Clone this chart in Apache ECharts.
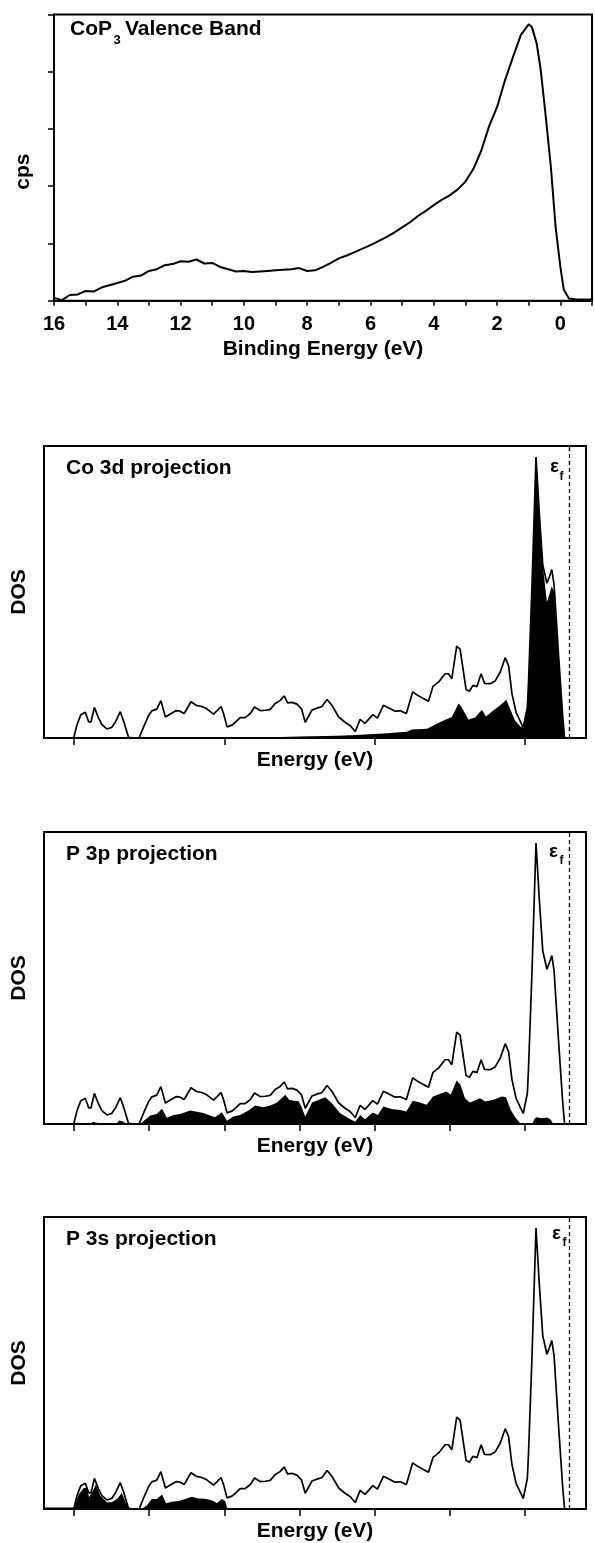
<!DOCTYPE html>
<html>
<head>
<meta charset="utf-8">
<script src="https://cdn.jsdelivr.net/npm/echarts@6/dist/echarts.min.js"></script>
<style>
  html, body { margin: 0; padding: 0; background: #fff; }
  #chart { width: 595px; height: 1543px; }
</style>
</head>
<body>
<div id="chart"></div>
<script>
// valence band XPS (binding energy in eV, counts arb.)
var vbEnergy = [16, 15.75, 15.5, 15.25, 15, 14.75, 14.5, 14.25, 14, 13.75, 13.5, 13.25, 13, 12.75, 12.5, 12.25,
	12, 11.75, 11.5, 11.25, 11, 10.75, 10.5, 10.25, 10, 9.75, 9.5, 9.25, 9, 8.75, 8.5, 8.25,
	8, 7.75, 7.5, 7.25, 7, 6.75, 6.5, 6.25, 6, 5.75, 5.5, 5.25, 5, 4.75, 4.5, 4.25,
	4, 3.75, 3.5, 3.25, 3, 2.75, 2.5, 2.25, 2, 1.75, 1.5, 1.25, 1, 0.9, 0.75, 0.62,
	0.46, 0.3, 0.15, 0, -0.11, -0.27, -0.5, -1];
var vbCounts = [0.05, 0.01, 0.10, 0.11, 0.17, 0.16, 0.23, 0.27, 0.31, 0.35, 0.42, 0.44, 0.52, 0.55, 0.62, 0.64,
	0.69, 0.68, 0.72, 0.65, 0.66, 0.59, 0.55, 0.51, 0.52, 0.50, 0.51, 0.52, 0.53, 0.54, 0.55, 0.57,
	0.52, 0.53, 0.59, 0.66, 0.74, 0.79, 0.85, 0.91, 0.97, 1.04, 1.11, 1.19, 1.28, 1.37, 1.48, 1.57,
	1.67, 1.76, 1.84, 1.94, 2.08, 2.30, 2.62, 3.05, 3.38, 3.85, 4.25, 4.64, 4.83, 4.78, 4.50, 4.03,
	3.21, 2.34, 1.29, 0.59, 0.19, 0.04, 0.02, 0.02];

// total DOS outline, shared by the three projection panels
var dosEnergy = [-12.01, -11.92, -11.82, -11.70, -11.61, -11.55, -11.46, -11.35, -11.26, -11.13, -11.00, -10.90,
	-10.77, -10.68, -10.55, -10.40, -10.27, -10.15, -10.02, -9.93, -9.80, -9.69, -9.57, -9.44,
	-9.28, -9.18, -9.07, -8.89, -8.75, -8.60, -8.47, -8.29, -8.20, -8.09, -8.02, -7.93,
	-7.80, -7.69, -7.58, -7.45, -7.31, -7.20, -7.05, -6.91, -6.78, -6.65, -6.52, -6.41,
	-6.32, -6.20, -6.07, -5.95, -5.85, -5.67, -5.50, -5.41, -5.27, -5.14, -4.96, -4.79,
	-4.65, -4.52, -4.39, -4.26, -4.05, -3.93, -3.77, -3.61, -3.46, -3.32, -3.16, -2.99,
	-2.86, -2.69, -2.57, -2.45, -2.30, -2.13, -2.04, -1.95, -1.82, -1.73, -1.57, -1.48,
	-1.39, -1.28, -1.17, -1.08, -0.93, -0.80, -0.66, -0.53, -0.44, -0.35, -0.24, -0.05,
	0.06, 0.09, 0.18, 0.29, 0.38, 0.47, 0.58, 0.64, 0.71, 0.77, 0.89, 1.00, 1.05];
var dosTotal = [0.0, 0.46, 0.80, 0.88, 0.55, 0.55, 1.05, 0.69, 0.46, 0.31, 0.36, 0.55,
	0.90, 0.57, 0.02, 0.0, 0.0, 0.38, 0.76, 0.93, 0.99, 1.28, 0.72, 0.82,
	0.94, 0.92, 0.84, 1.24, 1.12, 1.08, 1.00, 0.82, 0.93, 1.08, 0.82, 0.38,
	0.44, 0.56, 0.70, 0.70, 0.84, 1.06, 0.94, 0.95, 0.98, 1.18, 1.28, 1.44,
	1.20, 1.22, 1.16, 1.00, 0.54, 0.96, 1.04, 1.07, 1.32, 1.12, 0.72, 0.54,
	0.42, 0.22, 0.64, 0.50, 0.80, 0.68, 1.12, 1.02, 0.92, 0.93, 0.84, 1.58,
	1.46, 1.34, 1.26, 1.77, 1.92, 2.20, 2.20, 2.03, 3.15, 3.04, 1.66, 1.60,
	1.80, 1.76, 2.20, 1.87, 1.86, 1.95, 2.26, 2.75, 2.48, 1.52, 0.88, 0.36,
	1.05, 1.89, 5.10, 9.62, 7.65, 5.93, 5.30, 5.50, 5.77, 5.26, 2.84, 0.75, 0.0];

// Co 3d projection (filled)
var co3dEnergy = [-12.0, -7.0, -6.0, -5.0, -4.65, -3.77, -3.15, -3.01, -2.61, -2.44, -2.17, -1.95,
	-1.77, -1.69, -1.51, -1.33, -1.15, -1.04, -0.84, -0.66, -0.50, -0.40, -0.27, -0.13,
	-0.05, 0.06, 0.09, 0.18, 0.29, 0.38, 0.47, 0.58, 0.64, 0.71, 0.77, 0.89, 1.00, 1.05];
var co3dDos = [0.0, 0.02, 0.05, 0.08, 0.09, 0.15, 0.21, 0.29, 0.32, 0.43, 0.60, 0.72,
	1.18, 1.06, 0.63, 0.70, 0.97, 0.74, 0.95, 1.12, 1.31, 1.00, 0.60, 0.40,
	0.34, 1.05, 1.89, 5.10, 9.62, 7.65, 5.93, 4.66, 4.90, 5.20, 5.00, 2.84, 0.75, 0.0];

// P 3p projection (filled)
var p3pEnergy = [-12.0, -11.55, -11.50, -11.46, -11.40, -11.35, -10.88, -10.80, -10.75, -10.68, -10.62, -10.25,
	-10.10, -9.97, -9.80, -9.66, -9.53, -9.35, -9.18, -8.91, -8.73, -8.56, -8.38, -8.25,
	-8.07, -7.93, -7.76, -7.58, -7.36, -7.18, -6.96, -6.78, -6.60, -6.38, -6.27, -6.03,
	-5.95, -5.85, -5.67, -5.50, -5.32, -5.14, -4.92, -4.70, -4.52, -4.39, -4.26, -4.05,
	-3.92, -3.77, -3.55, -3.32, -3.16, -2.99, -2.80, -2.62, -2.45, -2.22, -2.09, -1.98,
	-1.82, -1.72, -1.60, -1.47, -1.33, -1.20, -1.06, -0.84, -0.62, -0.51, -0.38, -0.27,
	-0.13, 0.19, 0.25, 0.31, 0.45, 0.58, 0.68, 0.75];
var p3pDos = [0.0, 0.0, 0.08, 0.12, 0.04, 0.0, 0.0, 0.12, 0.18, 0.08, 0.0, 0.0,
	0.15, 0.29, 0.34, 0.52, 0.21, 0.31, 0.34, 0.46, 0.42, 0.38, 0.29, 0.23,
	0.40, 0.11, 0.26, 0.31, 0.46, 0.63, 0.57, 0.63, 0.74, 1.00, 0.82, 0.78,
	0.60, 0.25, 0.74, 0.82, 0.92, 0.71, 0.37, 0.20, 0.08, 0.31, 0.16, 0.39,
	0.31, 0.60, 0.51, 0.48, 0.43, 0.80, 0.74, 0.66, 0.94, 1.05, 1.11, 1.00,
	1.49, 1.34, 0.88, 0.74, 0.81, 0.88, 0.77, 0.83, 0.94, 0.92, 0.48, 0.25,
	0.02, 0.0, 0.18, 0.23, 0.20, 0.22, 0.15, 0.0];

// P 3s projection (filled)
var p3sEnergy = [-12.78, -12.0, -11.97, -11.88, -11.75, -11.66, -11.60, -11.55, -11.48, -11.42, -11.30, -11.13,
	-11.00, -10.86, -10.73, -10.61, -10.50, -10.20, -10.06, -9.93, -9.80, -9.66, -9.55, -9.40,
	-9.22, -9.04, -8.87, -8.70, -8.47, -8.29, -8.20, -8.07, -7.98, -7.92, -7.20, -7.15,
	-7.10, -6.55, -6.50, -6.45];
var p3sDos = [0.05, 0.05, 0.05, 0.49, 0.71, 0.74, 0.40, 0.45, 0.67, 0.85, 0.45, 0.23,
	0.23, 0.34, 0.55, 0.17, 0.0, 0.0, 0.13, 0.34, 0.34, 0.50, 0.20, 0.25,
	0.27, 0.34, 0.42, 0.36, 0.34, 0.27, 0.20, 0.34, 0.27, 0.0, 0.0, 0.03,
	0.0, 0.0, 0.03, 0.0];

var fermiLevel = 1.17;
var coarseTicks = [-12, -8, -4, 0];
var fineTicks = [-12, -10, -8, -6, -4, -2, 0];

var FONT = '"Liberation Sans", Arial, Helvetica, sans-serif';

function pairs(xs, ys) {
	var out = [];
	for (var i = 0; i < xs.length; i++) out.push([xs[i], ys[i]]);
	return out;
}

var chart = echarts.init(document.getElementById('chart'));

// the three DOS panels share the same box layout
var dosPanels = [
	{ top: 446, title: 'Co 3d projection', ticks: coarseTicks, fillE: co3dEnergy, fillV: co3dDos, ef: [550, 467, 559.5, 477] },
	{ top: 832, title: 'P 3p projection', ticks: fineTicks, fillE: p3pEnergy, fillV: p3pDos, ef: [549, 852, 559.5, 861] },
	{ top: 1217, title: 'P 3s projection', ticks: fineTicks, fillE: p3sEnergy, fillV: p3sDos, ef: [552, 1234, 562.5, 1243] }
];

var grids = [{ left: 54, top: 14.5, right: -2, height: 286.2, show: true, borderColor: '#000', borderWidth: 2 }];
var xAxes = [{
	gridIndex: 0, type: 'value', inverse: true, min: -1, max: 16, interval: 1,
	name: 'Binding Energy (eV)', nameLocation: 'middle', nameGap: 38,
	nameTextStyle: { fontFamily: FONT, fontWeight: 'bold', fontSize: 21, color: '#000' },
	axisLine: { onZero: false, lineStyle: { color: '#000', width: 2 } },
	axisTick: { inside: false, length: 5, lineStyle: { color: '#000', width: 1.5 } },
	axisLabel: {
		margin: 14, fontFamily: FONT, fontWeight: 'bold', fontSize: 20, color: '#000',
		formatter: function (v) { return (v >= 0 && v % 2 === 0) ? String(v) : ''; }
	},
	splitLine: { show: false }
}];
var yAxes = [{
	gridIndex: 0, type: 'value', min: 0, max: 5, interval: 1,
	name: 'cps', nameLocation: 'middle', nameGap: 20,
	nameTextStyle: { fontFamily: FONT, fontWeight: 'bold', fontSize: 21, color: '#000', padding: [0, 28, 0, 0] },
	axisLine: { show: true, onZero: false, lineStyle: { color: '#000', width: 2 } },
	axisTick: { show: true, inside: false, length: 6, lineStyle: { color: '#000', width: 1.5 } },
	axisLabel: { show: false },
	splitLine: { show: false }
}];
var series = [{
	type: 'line', xAxisIndex: 0, yAxisIndex: 0, showSymbol: false, symbol: 'none',
	data: pairs(vbEnergy, vbCounts),
	lineStyle: { color: '#000', width: 2 }
}];
var graphics = [
	{ type: 'text', x: 70, y: 29, style: { text: 'CoP', fontFamily: FONT, fontWeight: 'bold', fontSize: 21, fill: '#000', textVerticalAlign: 'middle' } },
	{ type: 'text', x: 113.5, y: 40, style: { text: '3', fontFamily: FONT, fontWeight: 'bold', fontSize: 13, fill: '#000', textVerticalAlign: 'middle' } },
	{ type: 'text', x: 125, y: 29, style: { text: 'Valence Band', fontFamily: FONT, fontWeight: 'bold', fontSize: 21, fill: '#000', textVerticalAlign: 'middle' } }
];

dosPanels.forEach(function (p, k) {
	var gi = k + 1;
	grids.push({ left: 44, right: 9, top: p.top, height: 292, show: true, borderColor: '#000', borderWidth: 2 });
	xAxes.push({
		gridIndex: gi, type: 'value', min: -12.8, max: 1.62,
		name: 'Energy (eV)', nameLocation: 'middle', nameGap: 12,
		nameTextStyle: { fontFamily: FONT, fontWeight: 'bold', fontSize: 21, color: '#000' },
		axisLine: { onZero: false, lineStyle: { color: '#000', width: 2 } },
		axisTick: { show: true, inside: false, length: 7, customValues: p.ticks, lineStyle: { color: '#000', width: 1.5 } },
		axisLabel: { show: false },
		splitLine: { show: false }
	});
	yAxes.push({
		gridIndex: gi, type: 'value', min: 0, max: 10,
		name: 'DOS', nameLocation: 'middle', nameGap: 14,
		nameTextStyle: { fontFamily: FONT, fontWeight: 'bold', fontSize: 21, color: '#000' },
		axisLine: { show: true, onZero: false, lineStyle: { color: '#000', width: 2 } },
		axisTick: { show: false },
		axisLabel: { show: false },
		splitLine: { show: false }
	});
	series.push({
		type: 'line', xAxisIndex: gi, yAxisIndex: gi, symbol: 'none', z: 2,
		data: pairs(p.fillE, p.fillV),
		lineStyle: { width: 0 },
		areaStyle: { color: '#000', opacity: 1 }
	});
	series.push({
		type: 'line', xAxisIndex: gi, yAxisIndex: gi, symbol: 'none', z: 3,
		data: pairs(dosEnergy, dosTotal),
		lineStyle: { color: '#000', width: 1.7 },
		markLine: {
			silent: true, symbol: ['none', 'none'], label: { show: false },
			lineStyle: { color: '#000', type: [4, 3], width: 1.3 },
			data: [{ xAxis: fermiLevel }]
		}
	});
	graphics.push({ type: 'text', x: 66, y: p.top + 22, style: { text: p.title, fontFamily: FONT, fontWeight: 'bold', fontSize: 21, fill: '#000', textVerticalAlign: 'middle' } });
	graphics.push({ type: 'text', x: p.ef[0], y: p.ef[1], style: { text: 'ε', fontFamily: FONT, fontWeight: 'bold', fontSize: 19, fill: '#000', textVerticalAlign: 'middle' } });
	graphics.push({ type: 'text', x: p.ef[2], y: p.ef[3], style: { text: 'f', fontFamily: FONT, fontWeight: 'bold', fontSize: 12, fill: '#000', textVerticalAlign: 'middle' } });
});

var option = {
	animation: false,
	backgroundColor: '#fff',
	grid: grids,
	xAxis: xAxes,
	yAxis: yAxes,
	series: series,
	graphic: graphics
};

if (option && typeof option === "object") {
	chart.setOption(option, true);
}
</script>
</body>
</html>
